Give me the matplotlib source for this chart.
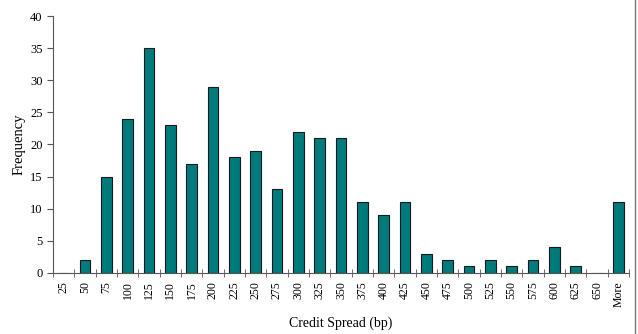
import numpy as np
import matplotlib.pyplot as plt

bins = ["25", "50", "75", "100", "125", "150", "175", "200", "225", "250",
        "275", "300", "325", "350", "375", "400", "425", "450", "475", "500",
        "525", "550", "575", "600", "625", "650", "More"]
freq = [0, 2, 15, 24, 35, 23, 17, 29, 18, 19, 13, 22, 21, 21, 11, 9, 11,
        3, 2, 1, 2, 1, 2, 4, 1, 0, 11]

plt.rcParams['font.family'] = ['Liberation Serif', 'DejaVu Serif']

fig = plt.figure(figsize=(6.38, 3.34), dpi=100)
ax = fig.add_axes([0.083, 0.183, 0.903, 0.769])

x = np.arange(len(bins))
ax.bar(x, freq, width=0.5, color="#007b7b", edgecolor="#1a1a1a", linewidth=0.8)

ax.set_xlim(-0.5, len(bins) - 0.5)
ax.set_ylim(0, 40)
ax.set_yticks(range(0, 41, 5))

# excel style: labels at centres, tick marks between categories
ax.set_xticks(x)
ax.set_xticklabels(bins, rotation=90, fontsize=8.5)
ax.tick_params(axis="x", length=0, pad=6)
ax.set_xticks(np.arange(-0.5, len(bins)), minor=True)
ax.tick_params(axis="x", which="minor", direction="inout", length=6, color="#555555")
ax.tick_params(axis="y", labelsize=9, length=4, color="#555555")

for s in ["top", "right"]:
    ax.spines[s].set_visible(False)
for s in ["left", "bottom"]:
    ax.spines[s].set_color("#555555")

ax.set_xlabel("Credit Spread (bp)", fontsize=10, labelpad=7)
ax.set_ylabel("Frequency", fontsize=10.5, labelpad=3)

fig.add_artist(plt.Line2D([0.996, 0.996], [0, 1], color="#777777", lw=1))

fig.savefig("out.png", dpi=100)
